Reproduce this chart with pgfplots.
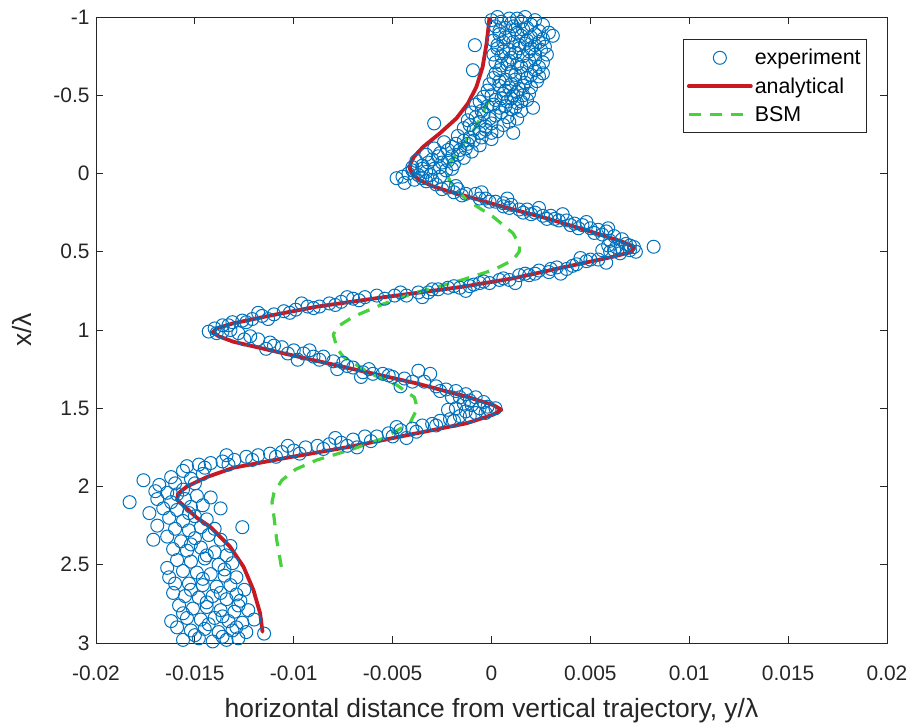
\documentclass[border=0pt]{standalone}
\usepackage{fontspec}
\setmainfont{Liberation Sans}
\usepackage{pgfplots}
\pgfplotsset{compat=1.18}
\definecolor{mblue}{rgb}{0,0.447,0.741}
\definecolor{mred}{RGB}{200,25,35}
\definecolor{mgreen}{RGB}{70,210,60}
\definecolor{axgray}{rgb}{0.15,0.15,0.15}
\begin{document}
\begin{tikzpicture}
\useasboundingbox (-96bp,-80bp) rectangle (819bp,643bp);
\begin{axis}[
  at={(0,0)}, anchor=south west,
  scale only axis, width=791bp, height=626bp,
  xmin=-20, xmax=20, ymin=-1, ymax=3,
  y dir=reverse,
  xtick={-20,-15,-10,-5,0,5,10,15,20},
  xticklabels={-0.02,-0.015,-0.01,-0.005,0,0.005,0.01,0.015,0.02},
  ytick={-1,-0.5,0,0.5,1,1.5,2,2.5,3},
  yticklabels={-1,-0.5,0,0.5,1,1.5,2,2.5,3},
  tick align=inside, major tick length=7bp,
  axis line style={axgray, line width=0.8bp},
  every tick/.style={axgray, line width=0.8bp},
  tick label style={font=\fontsize{21}{24}\selectfont, text=axgray},
  xticklabel style={yshift=-19bp},
  yticklabel style={xshift=-3bp},
  label style={font=\fontsize{26.5}{30}\selectfont, text=axgray},
  xlabel={horizontal distance from vertical trajectory, y/λ},
  ylabel={x/λ},
  xlabel style={at={(axis description cs:0.5,-0.1086)}, anchor=center},
  ylabel style={at={(axis description cs:-0.094,0.5)}, anchor=center},
  legend style={at={(1,1)}, anchor=north east, xshift=-20bp, yshift=-22bp,
    draw=axgray, line width=0.6bp, font=\fontsize{21.5}{24}\selectfont, text=black,
    inner xsep=4bp, inner ysep=8bp, row sep=7.5bp, cells={anchor=west}},
  legend image code/.code={\draw[mark repeat=2,mark phase=2,#1] plot coordinates {(0bp,0bp) (31bp,0bp) (62bp,0bp)};},
  legend cell align=left,
]
\addplot[only marks, mark=o, mark size=6.5bp, mblue, mark options={line width=1.0bp}] table {
x y
0.3 -1.00
0.8 -1.01
1.3 -0.99
1.7 -1.00
0.5 -0.97
1.0 -0.96
1.5 -0.97
2.0 -0.95
0.2 -0.94
0.7 -0.93
1.2 -0.92
1.8 -0.93
2.4 -0.91
2.9 -0.90
3.1 -0.88
0.4 -0.89
0.9 -0.88
1.5 -0.88
2.0 -0.87
2.6 -0.86
0.1 -0.85
0.6 -0.84
1.1 -0.84
1.7 -0.83
2.2 -0.82
-0.84 -0.82
0.3 -0.80
0.9 -0.79
1.4 -0.80
1.9 -0.78
2.5 -0.79
2.8 -0.76
0.5 -0.75
1.0 -0.74
1.6 -0.75
2.2 -0.73
0.2 -0.71
0.8 -0.70
1.3 -0.70
1.8 -0.69
2.4 -0.68
2.6 -0.64
-0.94 -0.66
0.4 -0.66
1.0 -0.65
1.5 -0.64
2.0 -0.63
0.1 -0.61
0.7 -0.60
1.2 -0.60
1.7 -0.58
2.3 -0.59
0.4 -0.56
0.9 -0.55
1.4 -0.54
2.0 -0.55
-0.2 -0.53
0.6 -0.51
1.1 -0.50
1.6 -0.50
2.1 -0.42
-0.4 -0.49
0.2 -0.47
0.8 -0.46
1.3 -0.45
1.8 -0.47
-0.8 -0.44
-0.2 -0.43
0.4 -0.42
1.0 -0.41
1.5 -0.40
-1.0 -0.39
-0.4 -0.38
0.2 -0.37
0.8 -0.36
1.3 -0.35
-1.2 -0.34
-0.6 -0.33
0.0 -0.32
0.6 -0.31
-2.9 -0.32
-1.4 -0.29
-0.9 -0.28
-0.3 -0.28
0.3 -0.27
1.1 -0.26
-1.7 -0.24
-1.1 -0.23
-0.5 -0.23
0.0 -0.22
-2.4 -0.20
-1.8 -0.19
-1.2 -0.19
-0.6 -0.18
-2.9 -0.16
-2.2 -0.15
-1.6 -0.15
-1.0 -0.14
-3.3 -0.12
-2.7 -0.11
-2.0 -0.11
-1.4 -0.10
-3.8 -0.08
-3.2 -0.07
-2.5 -0.07
-1.9 -0.06
-4.0 -0.04
-3.5 -0.03
-2.9 -0.03
-2.3 -0.02
-4.2 0.00
-3.7 0.01
-3.1 0.01
-2.6 0.02
-4.8 0.03
-4.4 0.06
-3.9 0.04
-3.3 0.05
0.0 -0.98
0.9 -0.99
2.2 -0.98
1.1 -0.94
1.6 -0.92
2.6 -0.95
0.4 -0.91
1.3 -0.90
2.2 -0.89
0.7 -0.87
1.8 -0.85
2.4 -0.84
0.3 -0.82
1.4 -0.82
2.0 -0.80
2.7 -0.81
0.6 -0.78
1.2 -0.77
2.2 -0.76
0.1 -0.76
0.9 -0.72
1.9 -0.72
2.6 -0.71
0.5 -0.69
1.5 -0.68
2.2 -0.66
0.2 -0.64
1.2 -0.63
1.8 -0.61
2.4 -0.62
0.4 -0.59
1.0 -0.57
1.6 -0.56
-0.1 -0.57
0.7 -0.53
1.3 -0.52
1.9 -0.51
0.0 -0.50
0.5 -0.48
1.0 -0.48
1.5 -0.46
-0.6 -0.46
0.1 -0.44
0.7 -0.43
1.2 -0.42
-0.5 -0.40
0.5 -0.39
-0.8 -0.36
-0.1 -0.35
0.9 -0.33
-0.3 -0.30
-1.1 -0.31
0.0 -0.26
-0.6 -0.26
-1.4 -0.21
-0.9 -0.21
-2.0 -0.17
-1.3 -0.16
-2.6 -0.13
-1.7 -0.12
-3.0 -0.09
-2.2 -0.08
-3.5 -0.05
-2.6 -0.04
-4.0 -0.02
-3.3 -0.01
-2.0 -0.03
-4.5 0.02
-3.5 0.03
-3.0 0.04
-2.8 0.07
-2.2 0.09
-1.7 0.10
-1.3 0.13
-0.8 0.13
-0.3 0.16
0.2 0.18
0.6 0.19
1.0 0.20
1.4 0.23
1.8 0.23
2.2 0.25
2.6 0.27
3.0 0.27
3.4 0.30
3.8 0.30
4.2 0.32
4.6 0.33
5.0 0.35
5.4 0.36
5.8 0.37
6.2 0.40
6.6 0.42
-1.9 0.12
-0.6 0.16
0.6 0.21
1.6 0.25
2.8 0.29
4.0 0.33
5.2 0.38
-2.5 0.10
-1.5 0.14
-0.1 0.18
0.9 0.22
2.0 0.26
3.2 0.29
4.4 0.35
5.6 0.39
6.0 0.43
7.0 0.46
-1.8 0.08
-0.5 0.12
0.8 0.16
2.4 0.22
3.6 0.26
4.8 0.31
5.9 0.35
6.8 0.45
7.2 0.47
6.6 0.48
7.0 0.49
6.3 0.47
5.9 0.46
6.0 0.50
6.5 0.51
8.2 0.468
5.6 0.49
7.3 0.50
6.2 0.49
5.4 0.55
4.8 0.56
4.3 0.58
3.8 0.61
3.3 0.60
2.9 0.63
2.4 0.62
1.9 0.65
1.4 0.65
0.9 0.68
0.4 0.68
-0.1 0.70
-0.6 0.70
-1.1 0.72
-1.6 0.73
-2.2 0.73
-2.7 0.74
-3.2 0.76
-3.7 0.76
-4.3 0.78
-4.9 0.78
4.5 0.54
2.2 0.64
-0.9 0.71
5.0 0.55
4.1 0.59
3.0 0.61
1.7 0.64
0.6 0.67
-0.4 0.69
-1.9 0.72
-3.0 0.74
-4.6 0.76
5.8 0.57
3.5 0.64
1.2 0.70
-1.3 0.75
-3.5 0.79
-5.8 0.78
-6.4 0.79
-7.0 0.80
-7.6 0.82
-8.2 0.83
-8.7 0.85
-9.3 0.85
-9.9 0.87
-10.5 0.88
-11.0 0.90
-11.6 0.91
-12.1 0.93
-12.6 0.94
-13.1 0.95
-13.6 0.97
-14.0 0.99
-14.3 1.01
-13.6 1.01
-13.2 1.00
-12.8 1.02
-12.2 1.04
-5.4 0.80
-6.7 0.81
-7.9 0.84
-9.0 0.86
-10.2 0.89
-11.3 0.93
-12.4 0.95
-13.3 0.97
-13.9 1.02
-7.3 0.79
-9.6 0.83
-11.8 0.89
-11.8 1.06
-11.2 1.08
-10.6 1.11
-10.0 1.13
-9.5 1.15
-9.0 1.17
-8.5 1.17
-8.0 1.20
-7.5 1.21
-7.0 1.24
-6.5 1.27
-6.0 1.28
-5.5 1.28
-5.0 1.30
-4.4 1.31
-3.7 1.26
-3.1 1.28
-3.4 1.33
-2.8 1.36
-2.3 1.38
-1.8 1.39
-1.3 1.41
-0.8 1.43
-0.4 1.46
-11.4 1.12
-9.2 1.13
-7.8 1.25
-12.5 1.06
-11.0 1.10
-10.3 1.15
-8.7 1.19
-7.3 1.23
-6.2 1.25
-5.2 1.29
-4.0 1.33
-2.6 1.39
-1.6 1.43
-1.1 1.45
-9.8 1.19
-6.6 1.30
-4.6 1.36
-2.0 1.43
-0.2 1.49
0.2 1.50
-0.6 1.50
-1.0 1.48
-1.4 1.47
-0.3 1.53
-0.8 1.53
-1.3 1.52
-1.8 1.50
-2.2 1.51
-1.6 1.55
-2.1 1.57
-2.6 1.58
-0.1 1.51
-1.1 1.55
-1.9 1.58
-3.0 1.60
-3.5 1.61
-4.0 1.63
-4.6 1.64
-5.2 1.66
-5.8 1.68
-6.4 1.68
-7.0 1.70
-7.6 1.72
-8.2 1.73
-8.8 1.74
-9.4 1.75
-10.0 1.77
-10.6 1.78
-11.2 1.79
-11.8 1.80
-12.4 1.81
-13.0 1.83
-13.6 1.84
-14.2 1.85
-14.8 1.86
-15.4 1.87
-4.3 1.69
-6.8 1.75
-2.8 1.61
-3.8 1.65
-5.0 1.68
-6.1 1.71
-7.3 1.74
-8.5 1.76
-9.7 1.79
-10.9 1.81
-12.1 1.83
-13.3 1.86
-14.5 1.88
-4.8 1.62
-7.9 1.69
-10.3 1.74
-13.4 1.80
-17.6 1.96
-16.2 1.94
-15.6 1.90
-16.8 1.99
-16.0 1.98
-15.2 1.95
-14.6 1.92
-18.3 2.10
-17.0 2.03
-16.4 2.04
-15.6 2.02
-16.9 2.08
-16.2 2.10
-15.5 2.08
-14.9 2.06
-16.6 2.14
-15.9 2.15
-15.2 2.13
-14.6 2.12
-13.7 2.14
-16.3 2.20
-15.6 2.22
-15.0 2.19
-14.4 2.21
-12.6 2.26
-17.1 2.34
-16.0 2.27
-15.3 2.28
-14.7 2.26
-15.0 1.98
-15.9 2.05
-17.3 2.17
-14.2 2.07
-15.3 2.17
-16.9 2.25
-14.0 2.27
-16.4 2.32
-15.7 2.35
-15.0 2.33
-14.3 2.31
-13.7 2.34
-16.1 2.40
-15.4 2.41
-14.7 2.39
-14.0 2.42
-13.4 2.44
-15.2 2.37
-13.2 2.38
-14.4 2.44
-15.9 2.47
-15.2 2.48
-14.5 2.46
-13.8 2.50
-13.1 2.49
-16.4 2.52
-13.5 2.53
-15.6 2.54
-14.9 2.55
-14.2 2.56
-13.5 2.57
-12.9 2.58
-14.6 2.59
-16.3 2.58
-16.0 2.62
-15.3 2.62
-14.6 2.63
-13.9 2.64
-13.2 2.63
-12.5 2.66
-16.1 2.68
-15.5 2.70
-14.8 2.71
-14.1 2.70
-13.4 2.72
-12.7 2.73
-12.9 2.69
-15.2 2.66
-13.7 2.68
-14.4 2.74
-12.8 2.76
-15.8 2.76
-15.1 2.78
-14.4 2.77
-13.7 2.79
-13.0 2.80
-12.3 2.79
-15.6 2.81
-13.6 2.83
-16.2 2.86
-12.0 2.85
-15.4 2.84
-14.7 2.85
-14.0 2.84
-13.3 2.86
-12.6 2.87
-14.3 2.88
-12.9 2.90
-15.9 2.90
-15.2 2.92
-14.5 2.91
-13.8 2.93
-13.1 2.92
-12.4 2.93
-11.5 2.94
-15.0 2.95
-13.6 2.96
-15.6 2.98
-14.8 2.97
-14.1 2.99
-13.4 2.98
-12.8 2.97
};
\addlegendentry{experiment}
\addplot[mred, line width=3.8bp, line join=round, line cap=round] table {
x y
-0.1 -1.0
-0.14 -0.95
-0.25 -0.83
-0.45 -0.68
-0.76 -0.555
-1.18 -0.45
-1.77 -0.353
-2.61 -0.257
-3.45 -0.171
-3.9 -0.11
-4.1 -0.065
-4.13 -0.03
-3.95 0.01
-3.6 0.045
-3.0 0.08
-2.27 0.11
-1.0 0.155
0.25 0.201
2.78 0.286
5.3 0.382
6.6 0.435
7.2 0.47
7.1 0.5
6.14 0.532
3.62 0.6
1.09 0.67
-1.43 0.723
-3.96 0.766
-5.6 0.793
-8.84 0.851
-11.36 0.912
-13.05 0.957
-13.9 0.99
-14.1 1.015
-13.8 1.04
-13.05 1.075
-10.52 1.149
-7.16 1.245
-3.79 1.341
-1.26 1.426
0.1 1.48
0.5 1.51
0.1 1.54
-1.26 1.596
-3.79 1.66
-7.16 1.746
-10.52 1.82
-13.05 1.88
-14.4 1.94
-15.4 2.0
-15.85 2.045
-15.9 2.085
-15.5 2.13
-14.9 2.2
-14.23 2.257
-13.22 2.385
-12.54 2.513
-12.04 2.661
-11.7 2.81
-11.58 2.928
};
\addlegendentry{analytical}
\addplot[mgreen, line width=3.2bp, dash pattern=on 12bp off 9bp, line join=round] table {
x y
-0.17 -0.46
-0.5 -0.37
-0.84 -0.29
-1.3 -0.21
-1.77 -0.13
-2.1 -0.06
-2.25 0.0
-2.1 0.05
-1.77 0.1
-1.26 0.169
0.08 0.276
1.09 0.382
1.43 0.46
1.4 0.5
1.09 0.553
0.08 0.617
-1.77 0.691
-3.96 0.766
-5.5 0.835
-6.99 0.915
-7.8 0.98
-8.0 1.03
-7.8 1.12
-7.5 1.17
-6.14 1.277
-4.8 1.351
-3.9 1.43
-3.75 1.5
-4.13 1.596
-5.47 1.692
-7.16 1.767
-8.84 1.831
-9.9 1.89
-10.6 1.96
-11.0 2.04
-11.1 2.1
-11.0 2.193
-10.86 2.342
-10.6 2.533
};
\addlegendentry{BSM}
\end{axis}
\end{tikzpicture}
\end{document}
